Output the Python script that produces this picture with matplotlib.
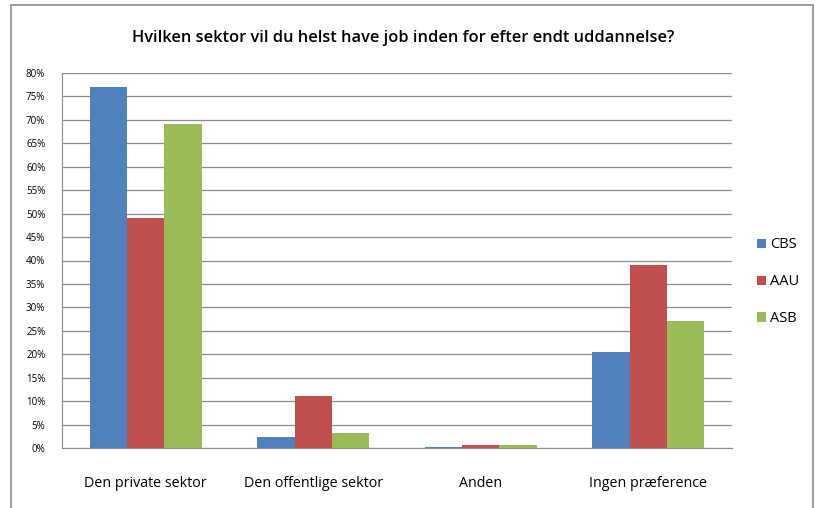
import matplotlib.pyplot as plt
import numpy as np
from matplotlib.patches import Rectangle
from matplotlib.ticker import FuncFormatter

categories = ["Den private sektor", "Den offentlige sektor", "Anden", "Ingen præference"]
series = ["CBS", "AAU", "ASB"]
cbs = [77.0, 2.3, 0.3, 20.5]
aau = [49.0, 11.2, 0.7, 39.0]
asb = [69.2, 3.1, 0.7, 27.0]
colors = ["#4f81bd", "#c0504d", "#9bbb59"]

plt.rcParams['font.family'] = ['Open Sans', 'DejaVu Sans']

fig = plt.figure(figsize=(8.15, 5.08), dpi=100)
ax = fig.add_axes([62 / 815, 60 / 508, (732 - 62) / 815, (448 - 73) / 508])

x = np.arange(len(categories))
w = 0.222
for i, (name, vals) in enumerate(zip(series, [cbs, aau, asb])):
    ax.bar(x + (i - 1) * w, vals, width=w, color=colors[i], label=name, zorder=3)

ax.set_xlim(-0.5, len(categories) - 0.5)
ax.set_ylim(0, 80)
ax.set_yticks(np.arange(0, 81, 5))
ax.yaxis.set_major_formatter(FuncFormatter(lambda v, p: f"{int(v)}%"))
ax.grid(axis='y', color='#8c8c8c', linewidth=0.9, zorder=0)
ax.set_xticks(x)
ax.set_xticklabels(categories, fontsize=10.3)
ax.tick_params(axis='x', length=0, pad=20)
ax.tick_params(axis='y', length=0, labelsize=7, pad=12)
for s in ['top', 'right']:
    ax.spines[s].set_visible(False)
ax.spines['left'].set_color('#8c8c8c')
ax.spines['bottom'].set_color('#8c8c8c')

fig.text(0.5 - 4 / 815, 1 - 38 / 508, "Hvilken sektor vil du helst have job inden for efter endt uddannelse?",
         ha='center', va='center', fontsize=11.8, fontweight='semibold')

ax.legend(loc='center left', bbox_to_anchor=(1.018, 0.443), frameon=False, fontsize=10.5,
          handlelength=0.6, handleheight=0.6, handletextpad=0.3, labelspacing=1.5)

fig.patches.append(Rectangle((11 / 815, -0.02), (813 - 11) / 815, 1 - 5 / 508 + 0.02,
                             transform=fig.transFigure, fill=False, edgecolor='#8c8c8c', linewidth=1.2))

fig.savefig("out.png", dpi=100)
